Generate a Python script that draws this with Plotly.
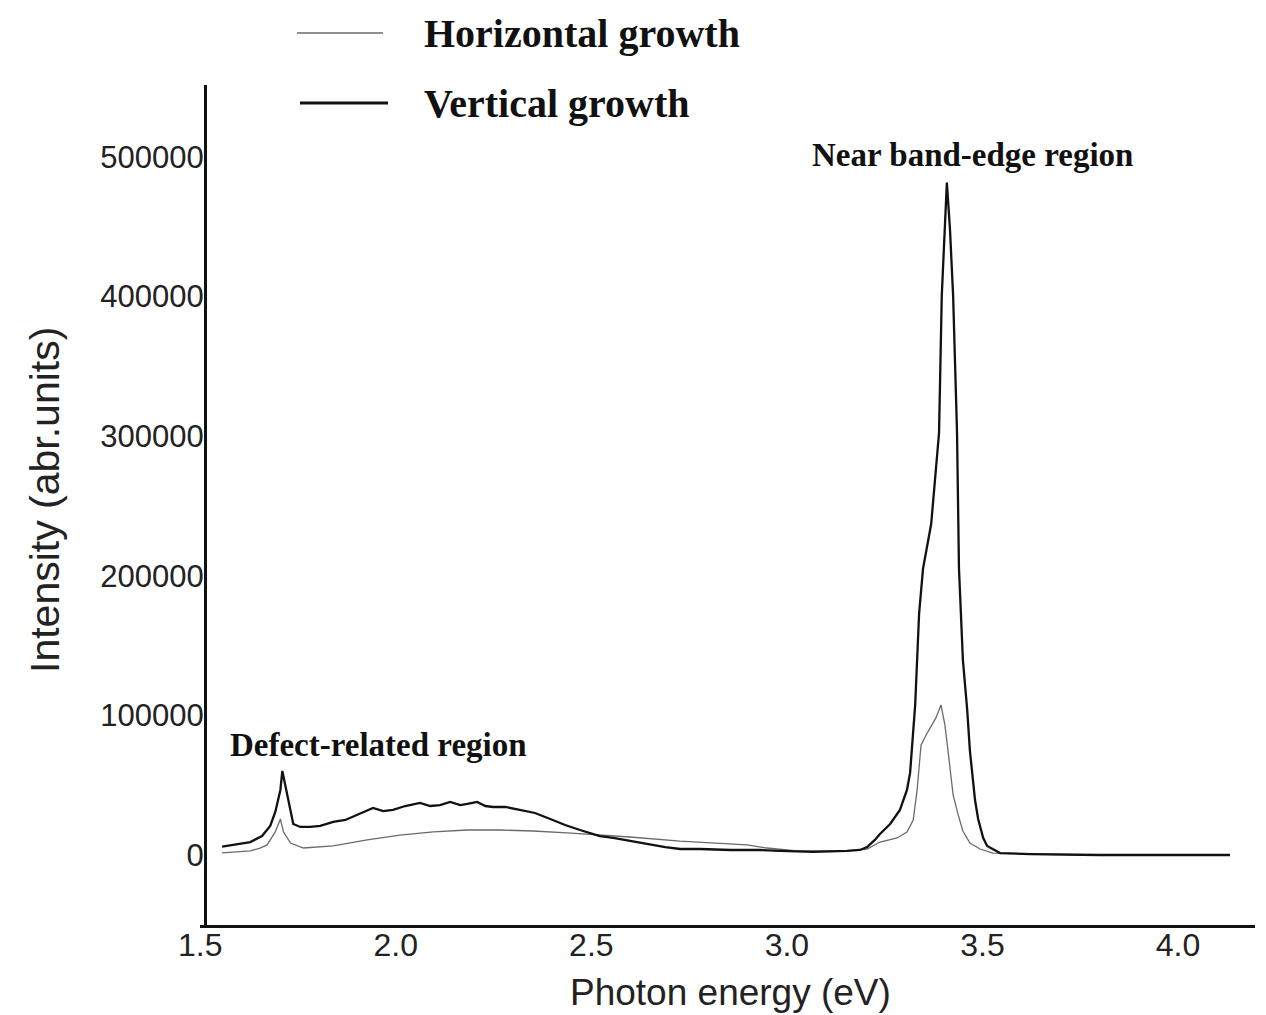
import plotly.graph_objects as go

# Vertical growth (thick black)
vert_x = [1.556, 1.628, 1.658, 1.679, 1.692, 1.705, 1.710, 1.720, 1.728, 1.738, 1.756, 1.781, 1.807,
          1.840, 1.871, 1.901, 1.922, 1.942, 1.968, 1.993, 2.024, 2.062, 2.088, 2.113, 2.139, 2.165,
          2.183, 2.208, 2.229, 2.249, 2.280, 2.318, 2.356, 2.395, 2.433, 2.471, 2.522, 2.556, 2.599,
          2.643, 2.689, 2.727, 2.778, 2.855, 2.931, 2.983, 3.067, 3.154, 3.187, 3.205, 3.225, 3.238,
          3.264, 3.289, 3.307, 3.315, 3.328, 3.338, 3.348, 3.369, 3.381, 3.389, 3.396, 3.404, 3.409,
          3.417, 3.425, 3.435, 3.440, 3.450, 3.461, 3.468, 3.481, 3.489, 3.502, 3.512, 3.545, 3.622,
          3.801, 4.133]
vert_y = [6000, 9300, 13600, 20800, 30800, 46600, 60200, 46600, 35100, 22200, 20100, 20100, 20800,
          23700, 25100, 28700, 31500, 33700, 31500, 32300, 35100, 37300, 35100, 35800, 38000, 35800,
          36600, 38000, 35100, 34400, 34400, 32300, 30100, 25800, 21500, 17900, 13600, 12200, 10000,
          7900, 5700, 4300, 4300, 3600, 3600, 2900, 2200, 2900, 3600, 5700, 10800, 15100,
          22200, 32300, 46600, 58800, 107500, 172800, 205000, 237300, 276000, 302500, 400700, 458800, 481700,
          448000, 400700, 302500, 205000, 139800, 104000, 74600, 39400, 25800, 12200, 6500, 1400, 700,
          0, 0]

# Horizontal growth (thin grey)
horiz_x = [1.556, 1.628, 1.653, 1.671, 1.692, 1.705, 1.713, 1.731, 1.764, 1.840, 1.927, 2.011,
           2.096, 2.183, 2.267, 2.351, 2.438, 2.522, 2.599, 2.727, 2.811, 2.898, 2.949, 3.026,
           3.154, 3.205, 3.238, 3.282, 3.307, 3.323, 3.333, 3.343, 3.356, 3.371, 3.381, 3.394,
           3.404, 3.412, 3.425, 3.438, 3.450, 3.468, 3.494, 3.527, 3.622, 3.801, 4.133]
horiz_y = [1500, 2900, 5000, 7200, 16500, 25800, 16500, 8600, 5000, 6500, 10800, 14300,
           16500, 17900, 17900, 17200, 15800, 14300, 12900, 10000, 8600, 7200, 5000, 2900,
           2900, 4300, 9300, 12200, 16500, 25100, 46600, 78900, 86000, 93200, 98200, 107500,
           93200, 74600, 43000, 28700, 17200, 8600, 4300, 1400, 700, 0, 0]

x_ticks = [1.5, 2.0, 2.5, 3.0, 3.5, 4.0]
x_tick_labels = ["1.5", "2.0", "2.5", "3.0", "3.5", "4.0"]
y_ticks = [0, 100000, 200000, 300000, 400000, 500000]
y_tick_labels = ["0", "100000", "200000", "300000", "400000", "500000"]

SANS = "Liberation Sans, Arial, sans-serif"
SERIF = "Liberation Serif, Times New Roman, serif"

fig = go.Figure()
fig.add_trace(go.Scatter(x=horiz_x, y=horiz_y, mode="lines", name="Horizontal growth",
                         line=dict(color="#6a6a6a", width=1.3), showlegend=False))
fig.add_trace(go.Scatter(x=vert_x, y=vert_y, mode="lines", name="Vertical growth",
                         line=dict(color="#111111", width=2.3), showlegend=False))

# page has an 8px body margin: figure origin sits at (8, 8) in the window
OFF = 8
W, H = 1250, 1007
L, T = 200 - OFF, 85 - OFF
pw, ph = 1055, 840
R = W - L - pw
B = H - T - ph


def px(xp):
    return (xp - OFF - L) / pw


def py(yp):
    return (T + ph - (yp - OFF)) / ph


# legend drawn manually
fig.add_shape(type="line", xref="paper", yref="paper", x0=px(297), x1=px(383), y0=py(33), y1=py(33),
              line=dict(color="#6a6a6a", width=1.5))
fig.add_shape(type="line", xref="paper", yref="paper", x0=px(300), x1=px(388), y0=py(103), y1=py(103),
              line=dict(color="#111111", width=3))
fig.add_annotation(xref="paper", yref="paper", x=px(422), y=py(33), text="<b>Horizontal growth</b>",
                   showarrow=False, xanchor="left", yanchor="middle",
                   font=dict(family=SERIF, size=40, color="#111"))
fig.add_annotation(xref="paper", yref="paper", x=px(422), y=py(103), text="<b>Vertical growth</b>",
                   showarrow=False, xanchor="left", yanchor="middle",
                   font=dict(family=SERIF, size=40, color="#111"))

fig.add_annotation(x=1.5716, y=78800, text="<b>Defect-related region</b>", showarrow=False,
                   xanchor="left", yanchor="middle", font=dict(family=SERIF, size=33, color="#111"))
fig.add_annotation(x=3.474, y=501400, text="<b>Near band-edge region</b>", showarrow=False,
                   xanchor="center", yanchor="middle", font=dict(family=SERIF, size=33, color="#111"))

# axis titles
fig.add_annotation(xref="paper", yref="paper", x=px(730), y=py(992), text="Photon energy (eV)",
                   showarrow=False, xanchor="center", yanchor="middle",
                   font=dict(family=SANS, size=37, color="#222"))
fig.add_annotation(xref="paper", yref="paper", x=px(45), y=py(500), text="Intensity (abr.units)",
                   showarrow=False, xanchor="center", yanchor="middle", textangle=-90,
                   font=dict(family=SANS, size=41, color="#222"))

fig.update_layout(
    width=W, height=H,
    margin=dict(l=L, r=R, t=T, b=B, autoexpand=False),
    paper_bgcolor="white", plot_bgcolor="white",
    xaxis=dict(range=[1.4995, 1.5 + pw / 391.2], tickvals=x_ticks, ticktext=x_tick_labels,
               showgrid=False, zeroline=False, showline=True, linecolor="#111", linewidth=3,
               ticks="", tickfont=dict(family=SANS, size=32, color="#222"), automargin=False,
               ticklabelstandoff=-10),
    yaxis=dict(range=[-50143, 551600], tickvals=y_ticks, ticktext=y_tick_labels,
               anchor="free", position=5 / pw, automargin=False,
               showgrid=False, zeroline=False, showline=True, linecolor="#111", linewidth=3,
               ticks="", tickfont=dict(family=SANS, size=31, color="#222"),
               ticklabelstandoff=-6),
)

fig.write_html("out.html")
